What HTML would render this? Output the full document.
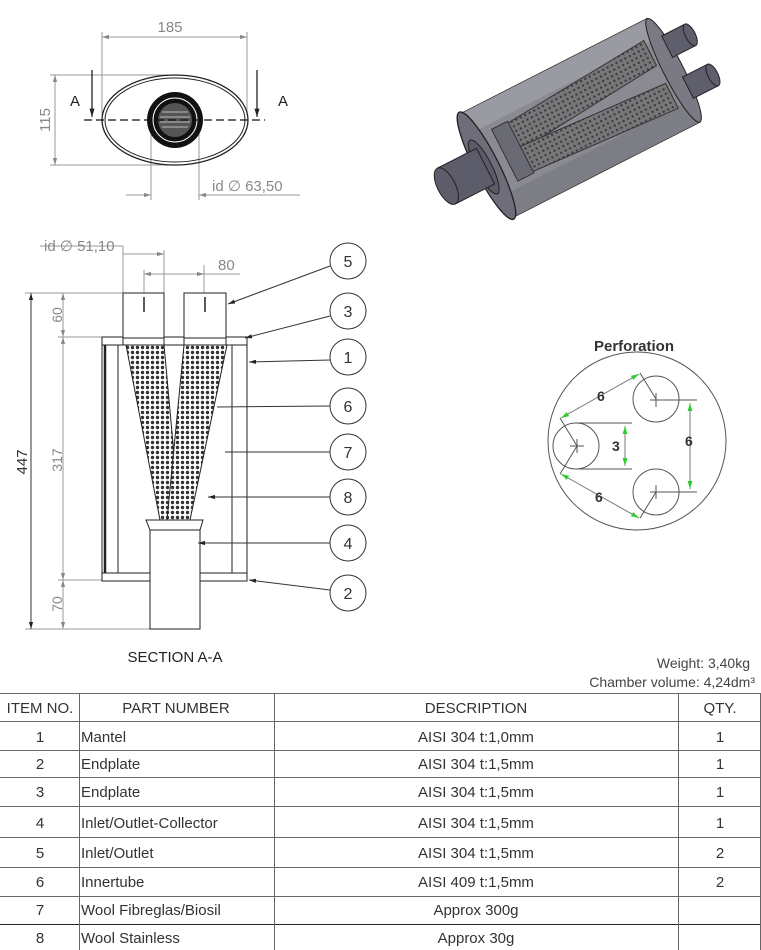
<!DOCTYPE html>
<html><head><meta charset="utf-8"><style>
body{margin:0;background:#fff;}
svg{display:block;font-family:"Liberation Sans",sans-serif;}
</style></head><body>
<svg width="761" height="950" viewBox="0 0 761 950" xmlns="http://www.w3.org/2000/svg">
<defs>
<pattern id="perf" width="5" height="5" patternUnits="userSpaceOnUse">
<rect width="5" height="5" fill="#fff"/>
<circle cx="2.5" cy="2.5" r="1.7" fill="#333"/>
</pattern>
<pattern id="perf3" width="5" height="5" patternUnits="userSpaceOnUse">
<rect width="5" height="5" fill="#777"/>
<circle cx="2.5" cy="2.5" r="1.2" fill="#3a3a45"/>
</pattern>
<marker id="ag" viewBox="0 0 10 10" refX="10" refY="5" markerWidth="7" markerHeight="7" orient="auto-start-reverse"><path d="M0,2 L10,5 L0,8 z" fill="#888"/></marker>
<marker id="ak" viewBox="0 0 10 10" refX="10" refY="5" markerWidth="7" markerHeight="7" orient="auto-start-reverse"><path d="M0,2 L10,5 L0,8 z" fill="#222"/></marker>
<marker id="agr" viewBox="0 0 10 10" refX="10" refY="5" markerWidth="8" markerHeight="8" orient="auto-start-reverse"><path d="M0,2 L10,5 L0,8 z" fill="#2ecc2e"/></marker>
</defs>

<!-- TOP VIEW -->
<g stroke="#999" stroke-width="1" fill="none">
<line x1="102" y1="32" x2="102" y2="115"/><line x1="247" y1="32" x2="247" y2="115"/>
<line x1="102" y1="37" x2="247" y2="37" marker-start="url(#ag)" marker-end="url(#ag)"/>
<line x1="50" y1="75" x2="175" y2="75"/><line x1="50" y1="165" x2="175" y2="165"/>
<line x1="55" y1="75" x2="55" y2="165" marker-start="url(#ag)" marker-end="url(#ag)"/>
<line x1="151" y1="120" x2="151" y2="200"/><line x1="199" y1="120" x2="199" y2="200"/>
<line x1="126" y1="195" x2="151" y2="195" marker-end="url(#ag)"/>
<line x1="199" y1="195" x2="300" y2="195" marker-start="url(#ag)"/>
</g>
<text x="170" y="32" font-size="15" fill="#888" text-anchor="middle">185</text>
<text transform="translate(50,120) rotate(-90)" font-size="15" fill="#888" text-anchor="middle">115</text>
<text x="212" y="191" font-size="15" fill="#888">id ∅ 63,50</text>
<ellipse cx="175" cy="120" rx="73" ry="45" fill="none" stroke="#222" stroke-width="1.3"/>
<ellipse cx="175" cy="120" rx="70" ry="42" fill="none" stroke="#222" stroke-width="1"/>
<circle cx="175" cy="120" r="28" fill="#111"/>
<circle cx="175" cy="120" r="22" fill="none" stroke="#fff" stroke-width="1"/>
<circle cx="175" cy="120" r="17" fill="#555"/>
<g stroke="#bbb" stroke-width="1"><line x1="162" y1="112" x2="188" y2="112"/><line x1="160" y1="117" x2="190" y2="117"/><line x1="160" y1="122" x2="190" y2="122"/><line x1="162" y1="127" x2="188" y2="127"/></g>
<line x1="84" y1="120" x2="265" y2="120" stroke="#111" stroke-width="1.2" stroke-dasharray="8,4"/>
<line x1="92" y1="70" x2="92" y2="117" stroke="#111" stroke-width="1.2" marker-end="url(#ak)"/>
<line x1="257" y1="70" x2="257" y2="117" stroke="#111" stroke-width="1.2" marker-end="url(#ak)"/>
<text x="70" y="106" font-size="15" fill="#222">A</text>
<text x="278" y="106" font-size="15" fill="#222">A</text>

<!-- 3D VIEW -->
<g transform="translate(580,118) rotate(-27)">
<rect x="-105" y="-58" width="210" height="116" fill="#8a8a92" stroke="#222" stroke-width="1.3"/>
<rect x="-105" y="-58" width="210" height="22" fill="#9a9aa3"/>
<rect x="-105" y="34" width="210" height="24" fill="#7d7d86"/>
<polygon points="-70,-28 92,-40 92,-12 -70,2" fill="url(#perf3)" stroke="#333"/>
<polygon points="-70,-2 92,8 92,36 -70,26" fill="url(#perf3)" stroke="#333"/>
<rect x="-84" y="-30" width="18" height="58" fill="#6a6a75" stroke="#333"/>
<ellipse cx="105" cy="0" rx="10" ry="58" fill="#7a7a84" stroke="#222"/>
<rect x="110" y="-36" width="26" height="24" fill="#5e5e6c" stroke="#222"/>
<ellipse cx="136" cy="-24" rx="5" ry="12" fill="#5e5e6c" stroke="#222"/>
<rect x="110" y="10" width="28" height="24" fill="#5e5e6c" stroke="#222"/>
<ellipse cx="138" cy="22" rx="5" ry="12" fill="#5e5e6c" stroke="#222"/>
<ellipse cx="-105" cy="0" rx="12" ry="60" fill="#6e6e7a" stroke="#222" stroke-width="1.3"/>
<ellipse cx="-108" cy="0" rx="8" ry="30" fill="#5a5a68" stroke="#222"/>
<rect x="-150" y="-20" width="44" height="40" fill="#5c5c6a" stroke="#222"/>
<ellipse cx="-150" cy="0" rx="9" ry="20" fill="#5c5c6a" stroke="#222"/>
</g>

<!-- SECTION A-A -->
<g stroke="#999" stroke-width="1" fill="none">
<line x1="40" y1="246" x2="123" y2="246"/>
<line x1="123" y1="246" x2="123" y2="293"/><line x1="164" y1="250" x2="164" y2="293"/>
<line x1="123" y1="254" x2="164" y2="254" marker-end="url(#ag)"/>
<line x1="144" y1="270" x2="144" y2="293"/><line x1="204" y1="265" x2="204" y2="293"/>
<line x1="144" y1="274" x2="204" y2="274" marker-start="url(#ag)" marker-end="url(#ag)"/>
<line x1="204" y1="274" x2="240" y2="274"/>
<line x1="25" y1="293" x2="123" y2="293"/><line x1="25" y1="629" x2="150" y2="629"/>
<line x1="58" y1="337" x2="102" y2="337"/><line x1="58" y1="580" x2="102" y2="580"/>
<line x1="63" y1="293" x2="63" y2="337" marker-start="url(#ag)" marker-end="url(#ag)"/>
<line x1="63" y1="337" x2="63" y2="580" marker-start="url(#ag)" marker-end="url(#ag)"/>
<line x1="63" y1="580" x2="63" y2="629" marker-start="url(#ag)" marker-end="url(#ag)"/>
</g>
<line x1="31" y1="293" x2="31" y2="629" stroke="#333" stroke-width="1" marker-start="url(#ak)" marker-end="url(#ak)"/>
<text x="44" y="251" font-size="15" fill="#888">id ∅ 51,10</text>
<text x="218" y="270" font-size="15" fill="#888">80</text>
<text transform="translate(62,315) rotate(-90)" font-size="14" fill="#888" text-anchor="middle">60</text>
<text transform="translate(62,460) rotate(-90)" font-size="14" fill="#888" text-anchor="middle">317</text>
<text transform="translate(62,604) rotate(-90)" font-size="14" fill="#888" text-anchor="middle">70</text>
<text transform="translate(27,462) rotate(-90)" font-size="15" fill="#333" text-anchor="middle">447</text>

<g stroke="#222" stroke-width="1" fill="none">
<rect x="102" y="338" width="145" height="242"/>
<line x1="105" y1="345" x2="105" y2="573" stroke-width="2.5"/>
<line x1="118" y1="345" x2="118" y2="573"/><line x1="232" y1="345" x2="232" y2="573"/>
<rect x="102" y="337" width="145" height="8" fill="#fff"/>
<rect x="102" y="573" width="145" height="8" fill="#fff"/>
<polygon points="126,345 164,345 180,520 160,520" fill="url(#perf)"/>
<polygon points="184,345 227,345 190,520 167,520" fill="url(#perf)"/>
<polygon points="146,520 203,520 200,530 150,530" fill="#fff"/>
<rect x="150" y="530" width="50" height="99" fill="#fff"/>
<rect x="123" y="293" width="41" height="52" fill="#fff"/>
<rect x="184" y="293" width="42" height="52" fill="#fff"/>
<line x1="123" y1="338" x2="164" y2="338"/><line x1="184" y1="338" x2="226" y2="338"/>
<line x1="144" y1="297" x2="144" y2="312" stroke-width="1.5"/><line x1="205" y1="297" x2="205" y2="312" stroke-width="1.5"/>
</g>

<!-- callouts -->
<g stroke="#333" stroke-width="1" fill="#fff">
<line x1="330" y1="266" x2="228" y2="304" marker-end="url(#ak)"/>
<line x1="330" y1="316" x2="245" y2="338" marker-end="url(#ak)"/>
<line x1="330" y1="360" x2="249" y2="362" marker-end="url(#ak)"/>
<line x1="330" y1="406" x2="217" y2="407"/>
<line x1="330" y1="452" x2="225" y2="452"/>
<line x1="330" y1="497" x2="208" y2="497" marker-end="url(#ak)"/>
<line x1="330" y1="543" x2="198" y2="543" marker-end="url(#ak)"/>
<line x1="330" y1="590" x2="249" y2="580" marker-end="url(#ak)"/>
<circle cx="348" cy="261" r="18"/><circle cx="348" cy="311" r="18"/>
<circle cx="348" cy="357" r="18"/><circle cx="348" cy="406" r="18"/>
<circle cx="348" cy="452" r="18"/><circle cx="348" cy="497" r="18"/>
<circle cx="348" cy="543" r="18"/><circle cx="348" cy="593" r="18"/>
</g>
<g font-size="16" fill="#333" text-anchor="middle">
<text x="348" y="267">5</text><text x="348" y="317">3</text><text x="348" y="363">1</text>
<text x="348" y="412">6</text><text x="348" y="458">7</text><text x="348" y="503">8</text>
<text x="348" y="549">4</text><text x="348" y="599">2</text>
</g>
<text x="175" y="662" font-size="15" fill="#222" text-anchor="middle">SECTION A-A</text>

<!-- PERFORATION -->
<text x="634" y="351" font-size="15" font-weight="bold" fill="#333" text-anchor="middle">Perforation</text>
<g stroke="#555" stroke-width="1" fill="none">
<circle cx="637" cy="441" r="89"/>
<circle cx="576" cy="446" r="23"/><circle cx="656" cy="399" r="23"/><circle cx="656" cy="492" r="23"/>
<line x1="570" y1="446" x2="584" y2="446"/><line x1="577" y1="439" x2="577" y2="453"/>
<line x1="650" y1="400" x2="697" y2="400"/><line x1="656" y1="393" x2="656" y2="407"/>
<line x1="650" y1="492" x2="697" y2="492"/><line x1="656" y1="485" x2="656" y2="499"/>
<line x1="576" y1="423" x2="632" y2="423"/><line x1="576" y1="469" x2="632" y2="469"/>
<line x1="577" y1="446" x2="560" y2="418"/><line x1="656" y1="399" x2="640" y2="373"/>
<line x1="577" y1="446" x2="560" y2="474"/><line x1="656" y1="492" x2="640" y2="518"/>
</g>
<g stroke="#777" stroke-width="1">
<line x1="625" y1="426" x2="625" y2="466" marker-start="url(#agr)" marker-end="url(#agr)"/>
<line x1="690" y1="403" x2="690" y2="489" marker-start="url(#agr)" marker-end="url(#agr)"/>
<line x1="561" y1="418" x2="639" y2="374" marker-start="url(#agr)" marker-end="url(#agr)"/>
<line x1="561" y1="474" x2="639" y2="518" marker-start="url(#agr)" marker-end="url(#agr)"/>
</g>
<g font-size="14" font-weight="bold" fill="#333">
<text x="597" y="401">6</text><text x="612" y="451">3</text><text x="685" y="446">6</text><text x="595" y="502">6</text>
</g>

<!-- info -->
<text x="750" y="668" font-size="14" fill="#444" text-anchor="end">Weight: 3,40kg</text>
<text x="755" y="687" font-size="14" fill="#444" text-anchor="end">Chamber volume: 4,24dm³</text>

<!-- TABLE -->
<g stroke="#666" stroke-width="1">
<line x1="0" y1="693.5" x2="761" y2="693.5"/>
<line x1="0" y1="721.5" x2="761" y2="721.5"/>
<line x1="0" y1="750.5" x2="761" y2="750.5"/>
<line x1="0" y1="777.5" x2="761" y2="777.5"/>
<line x1="0" y1="806.5" x2="761" y2="806.5"/>
<line x1="0" y1="837.5" x2="761" y2="837.5"/>
<line x1="0" y1="867.5" x2="761" y2="867.5"/>
<line x1="0" y1="896.5" x2="761" y2="896.5"/>
<line x1="0" y1="924.5" x2="761" y2="924.5" stroke="#222"/>
<line x1="79.5" y1="693" x2="79.5" y2="950"/>
<line x1="274.5" y1="693" x2="274.5" y2="950"/>
<line x1="678.5" y1="693" x2="678.5" y2="950"/>
<line x1="760.5" y1="693" x2="760.5" y2="950"/>
</g>
<g font-size="15" fill="#333">
<g text-anchor="middle">
<text x="40" y="713">ITEM NO.</text><text x="176" y="713">PART NUMBER</text><text x="476" y="713">DESCRIPTION</text><text x="720" y="713">QTY.</text>
<text x="40" y="742">1</text><text x="40" y="769">2</text><text x="40" y="797">3</text><text x="40" y="828">4</text><text x="40" y="858">5</text><text x="40" y="887">6</text><text x="40" y="915">7</text><text x="40" y="943">8</text>
<text x="476" y="742">AISI 304 t:1,0mm</text><text x="476" y="769">AISI 304 t:1,5mm</text><text x="476" y="797">AISI 304 t:1,5mm</text><text x="476" y="828">AISI 304 t:1,5mm</text><text x="476" y="858">AISI 304 t:1,5mm</text><text x="476" y="887">AISI 409 t:1,5mm</text><text x="476" y="915">Approx 300g</text><text x="476" y="943">Approx 30g</text>
<text x="720" y="742">1</text><text x="720" y="769">1</text><text x="720" y="797">1</text><text x="720" y="828">1</text><text x="720" y="858">2</text><text x="720" y="887">2</text>
</g>
<text x="81" y="742">Mantel</text><text x="81" y="769">Endplate</text><text x="81" y="797">Endplate</text><text x="81" y="828">Inlet/Outlet-Collector</text><text x="81" y="858">Inlet/Outlet</text><text x="81" y="887">Innertube</text><text x="81" y="915">Wool Fibreglas/Biosil</text><text x="81" y="943">Wool Stainless</text>
</g>
</svg>
</body></html>
